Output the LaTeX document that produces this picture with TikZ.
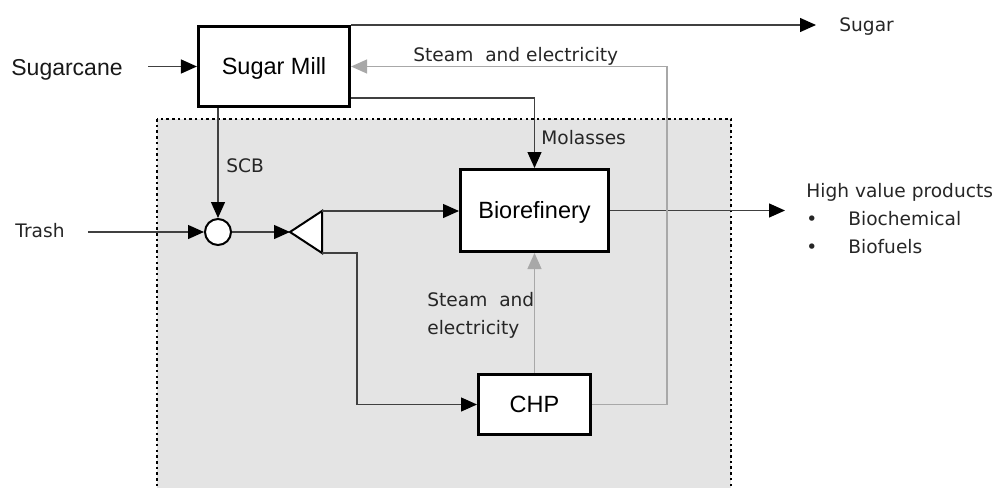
\documentclass[tikz,border=0pt]{standalone}
\usepackage{fontspec}
\usetikzlibrary{arrows.meta,positioning,calc}
\newfontfamily\labelfont{DejaVu Sans}
\newfontfamily\boxfont{Liberation Sans}
\definecolor{zonegray}{HTML}{E4E4E4}
\definecolor{steamgray}{HTML}{A8A8A8}
\tikzset{every picture/.style={line width=0.75pt}}

\begin{document}
\begin{tikzpicture}[x=1pt,y=-1pt,
    unit/.style={draw, line width=2.7pt, fill=white, font=\boxfont\fontsize{23.5}{28}\selectfont, text height=16.8pt, text depth=0pt},
    lbl/.style={font=\labelfont\fontsize{18.6}{28}\selectfont, text=black!85, inner sep=0pt, anchor=base west},
    flow/.style={line width=1.3pt, black!75, -{Triangle[length=16pt,width=14pt,black]}},
    steam/.style={line width=1.2pt, steamgray, -{Triangle[length=16pt,width=14pt]}}]
    \useasboundingbox (0,0) rectangle (1003,487);

    % integrated zone
    \draw[fill=zonegray, line width=2.5pt, dash pattern=on 2.5pt off 3.2pt] (157,119) rectangle (731,500);

    % units
    \node[unit, minimum width=151.4pt, minimum height=80.3pt] (mill) at (274,66.5) {Sugar Mill};
    \node[unit, minimum width=148.3pt, minimum height=82.3pt] (bio) at (534.5,210.5) {Biorefinery};
    \node[unit, minimum width=112.3pt, minimum height=60.3pt] (chp) at (534.5,404.5) {CHP};

    % mixer and splitter
    \node[circle, draw, line width=2pt, fill=white, minimum size=26pt, inner sep=0pt] (mix) at (218,232) {};
    \coordinate (split) at (290,232);
    \draw[line width=2pt, fill=white, line join=miter] (split) -- (322,211) coordinate (splitT) -- (322,253) coordinate (splitB) -- cycle;

    % texts
    \node[lbl, font=\boxfont\fontsize{23}{28}\selectfont, text=black!90] (sugarcane) at (11,75) {Sugarcane};
    \node[lbl] (trash) at (15,237) {Trash};
    \node[lbl] (sugar) at (839,32) {Sugar};
    \node[lbl] (steamtop) at (413,62) {Steam\ \ and electricity};
    \node[lbl] (molasses) at (541,144) {Molasses};
    \node[lbl] (scb) at (226,172) {SCB};
    \node[lbl, anchor=north west, align=left] (steamlow) at (427,292) {Steam\ \ and\\electricity};
    \node[lbl, anchor=north west, align=left] (hvp) at (806,183)
        {High value products\\\makebox[42pt][l]{\textbullet}Biochemical\\\makebox[42pt][l]{\textbullet}Biofuels};

    % streams
    \draw[flow] (mill.west -| sugarcane.east) ++(25,0) -- (mill.west);
    \draw[flow, shorten >=23pt] (mill.north east) -- (mill.north east -| sugar.west);
    \draw[flow] ([yshift=10pt]mill.south east) -| (bio.north);
    \draw[flow] (mill.south -| mix.north) -- (mix.north);
    \draw[flow] (mix.west -| trash.east) ++(23,0) -- (mix.west);
    \draw[flow] (mix.east) -- (split);
    \draw[flow] (splitT) -- (splitT -| bio.west);
    \draw[flow] (splitB) -- ++(35,0) |- (chp.west);
    \draw[flow, shorten >=21pt] (bio.east) -- (bio.east -| hvp.west);

    % steam and electricity
    \draw[steam] (chp.north) -- (bio.south);
    \draw[steam] (chp.east) -- ++(75,0) |- (mill.east);
\end{tikzpicture}
\end{document}
